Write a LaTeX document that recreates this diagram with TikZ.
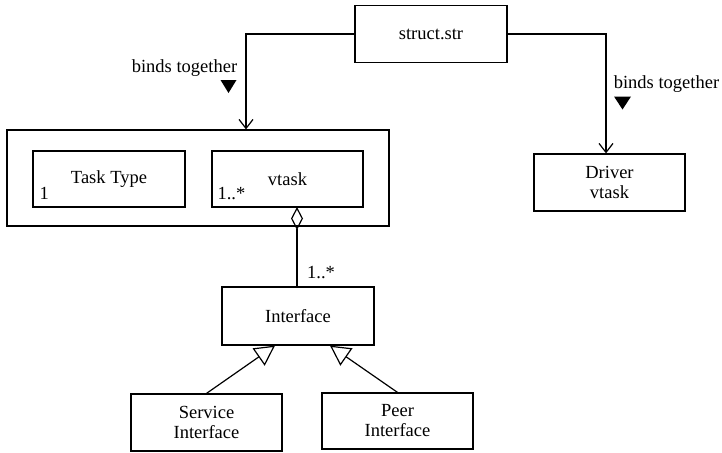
\documentclass[tikz,border=0pt]{standalone}
\usepackage{fontspec}
\setmainfont{Liberation Serif}
\usetikzlibrary{arrows.meta,calc}
\begin{document}
\begin{tikzpicture}[x=1pt,y=-1pt,
  txt/.style={font=\fontsize{18.5}{20}\selectfont},
  box/.style={draw, line width=1.2pt, inner sep=0pt, align=center, txt},
  lbl/.style={inner sep=0pt, txt},
  link/.style={line width=1.2pt},
  binds/.style={link, -{Straight Barb[length=9pt,width=14pt,line width=1.2pt]}},
  aggr/.style={link, -{Diamond[open,length=23pt,width=12pt,line width=1.2pt]}},
  gen/.style={link, -{Triangle[open,length=20pt,width=21pt,line width=1.2pt]}},
]
\useasboundingbox (0,0) rectangle (722,452);

% class boxes
\node[box, minimum width=152pt, minimum height=57pt] (struct) at (431,34) {struct.str};
\node[box, minimum width=382pt, minimum height=96pt] (group) at (198,178) {};
\node[box, minimum width=152pt, minimum height=56pt] (tasktype) at (109,179) {Task Type};
\node[box, minimum width=151pt, minimum height=56pt] (vtask) at (287.5,179) {vtask};
\node[box, minimum width=151pt, minimum height=57pt] (driver) at (609.5,182.5) {Driver\\vtask};
\node[box, minimum width=152pt, minimum height=58pt] (interface) at (298,316) {Interface};
\node[box, minimum width=151pt, minimum height=57pt] (service) at (206.5,422.5) {Service\\Interface};
\node[box, minimum width=151pt, minimum height=56pt] (peer) at (397.5,421) {Peer\\Interface};

% multiplicities
\node[lbl, anchor=base west] (mtask) at ($(tasktype.south west)+(7,-8)$) {1};
\node[lbl, anchor=base west] (mvtask) at ($(vtask.south west)+(6,-8)$) {1..*};
\node[lbl, anchor=base west] (miface) at ($(interface.north)+(9,-8)$) {1..*};

% "binds together" labels with their direction markers
\node[lbl, anchor=base] (bindl) at (184.5,72.7) {binds together};
\node[lbl, anchor=base] (bindr) at (666.5,88) {binds together};
\coordinate (tril) at (228.5,86.5);
\coordinate (trir) at (622.5,103);
\fill (tril) ++(-8,-6.5) -- ++(16,0) -- ++(-8,13) -- cycle;
\fill (trir) ++(-8.5,-6.5) -- ++(17,0) -- ++(-8.5,13) -- cycle;

% bindings from struct.str
\coordinate (bendl) at (246,34);
\coordinate (bendr) at (606,34);
\draw[binds] (struct.west |- bendl) -- (bendl) -- (bendl |- group.north);
\draw[binds] (struct.east |- bendr) -- (bendr) -- (bendr |- driver.north);

% aggregation of interfaces in vtask
\coordinate (agg) at (297,207);
\draw[aggr] (interface.north -| agg) -- (agg);

% generalisations
\coordinate (gsv) at ($(interface.south)+(-23,0)$);
\coordinate (gpe) at ($(interface.south)+(32,0)$);
\draw[gen] (service.north) -- (gsv);
\draw[gen] (peer.north) -- (gpe);
\end{tikzpicture}
\end{document}
